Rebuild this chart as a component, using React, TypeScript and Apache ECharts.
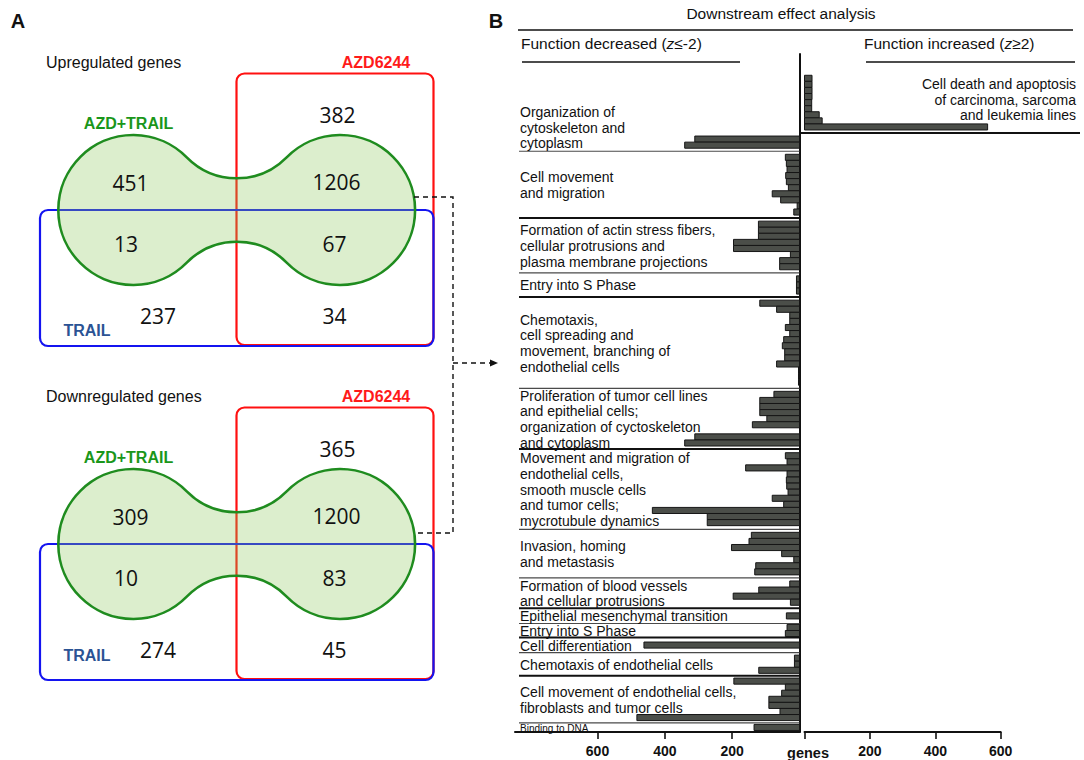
import { useEffect, useRef } from 'react';
import * as echarts from 'echarts';

const FONT = '"Liberation Sans", Arial, Helvetica, sans-serif';
const NUM_FONT = '"Open Sans", "Noto Sans", sans-serif';

// ---------- Panel A: Venn region counts ----------
const vennRegions = [
  'AZD6244 only',
  'AZD+TRAIL only',
  'AZD+TRAIL and AZD6244',
  'AZD+TRAIL and TRAIL',
  'AZD+TRAIL, AZD6244 and TRAIL',
  'TRAIL only',
  'TRAIL and AZD6244',
];
const upregulatedCounts = [382, 451, 1206, 13, 67, 237, 34];
const downregulatedCounts = [365, 309, 1200, 10, 83, 274, 45];

// ---------- Panel B: downstream effect analysis ----------
const increasedLabel = 'Cell death and apoptosis\nof carcinoma, sarcoma\nand leukemia lines';
const increasedGenes = [23, 23, 23, 23, 22, 22, 45, 54, 560];

const decreasedLabels = [
  'Organization of\ncytoskeleton and\ncytoplasm',
  'Cell movement\nand migration',
  'Formation of actin stress fibers,\ncellular protrusions and\nplasma membrane projections',
  'Entry into S Phase',
  'Chemotaxis,\ncell spreading and\nmovement, branching of\nendothelial cells',
  'Proliferation of tumor cell lines\nand epithelial cells;\norganization of cyctoskeleton\nand cytoplasm',
  'Movement and migration of\nendothelial cells,\nsmooth muscle cells\nand tumor cells;\nmycrotubule dynamics',
  'Invasion, homing\nand metastasis',
  'Formation of blood vessels\nand cellular protrusions',
  'Epithelial mesenchymal transition',
  'Entry into S Phase',
  'Cell differentiation',
  'Chemotaxis of endothelial cells',
  'Cell movement of endothelial cells,\nfibroblasts and tumor cells',
  'Binding to DNA',
];
const cytoskeletonGenes = [311, 341];
const cellMovementGenes = [42, 39, 37, 41, 39, 33, 81, 56, 7, 17];
const actinFiberGenes = [122, 122, 122, 196, 196, 27, 59, 59];
const sPhaseEntryGenes = [9, 9, 9];
const chemotaxisGenes = [118, 68, 29, 29, 42, 29, 47, 51, 44, 44, 68, 3, 3, 3];
const proliferationGenes = [76, 118, 118, 118, 97, 140, 0, 311, 341];
const endothelialMovementGenes = [42, 37, 160, 37, 39, 38, 34, 81, 47, 437, 274, 274];
const invasionGenes = [143, 150, 202, 53, 17, 130, 133];
const bloodVesselGenes = [29, 121, 197, 27];
const emtGenes = [39];
const sPhaseEntry2Genes = [37, 42];
const differentiationGenes = [462];
const endothelialChemotaxisGenes = [15, 15, 121];
const fibroblastMovementGenes = [195, 42, 53, 91, 91, 58, 483];
const dnaBindingGenes = [135];

const decreasedGenes = [
  cytoskeletonGenes,
  cellMovementGenes,
  actinFiberGenes,
  sPhaseEntryGenes,
  chemotaxisGenes,
  proliferationGenes,
  endothelialMovementGenes,
  invasionGenes,
  bloodVesselGenes,
  emtGenes,
  sPhaseEntry2Genes,
  differentiationGenes,
  endothelialChemotaxisGenes,
  fibroblastMovementGenes,
  dnaBindingGenes,
];
const geneTicks = [200, 400, 600];

// ---------- layout of the function groups ----------
const sectionPad = [1, 1, 1, 1, 1, 1, 1.2, 1, 1, 1.5, 0.3, 1.5, 0.8, 0.75, 0.5];
const dividerWeight = [1, 2, 1, 2, 1, 2, 1, 1, 2, 1, 2, 1, 2, 1, 0];
const LEFT_MAX = 845;
const RIGHT_MAX = 600;

// rows: increased group first, then the decreased groups stacked below it
const rightRows = increasedGenes.length + 1;
const rightBars = increasedGenes.map((v, i) => [v, 0.5 + i]);
const leftBars: number[][] = [];
const sections: number[][] = [];
let cursor = rightRows;
decreasedGenes.forEach((vals, s) => {
  const start = cursor;
  const first = start + sectionPad[s] / 2;
  vals.forEach((v, j) => leftBars.push([v, first + j]));
  cursor = start + vals.length + sectionPad[s];
  sections.push([0, start, cursor, s, dividerWeight[s]]);
});
const totalRows = cursor;

// peanut outline of the AZD+TRAIL set, centred on its waist
const PEANUT =
  'M-49.95 -52.62 A70.1 70.1 0 0 0 49.95 -52.62 A75 75 0 1 1 49.95 52.62 ' +
  'A70.1 70.1 0 0 0 -49.95 52.62 A75 75 0 1 1 -49.95 -52.62 Z';
echarts.graphic.registerShape('peanut', echarts.graphic.extendPath(PEANUT, {}));

const numberPos = [
  [337.5, 115],
  [130.5, 182.5],
  [336.5, 181.5],
  [126, 244],
  [334.5, 243.5],
  [158, 315.5],
  [334.5, 315.5],
];

function venn(title: string, counts: number[], dy: number, trailY: number) {
  const els: any[] = [
    {
      type: 'rect',
      shape: { x: 236.5, y: 73.5 + dy, width: 197, height: 271.5, r: 8 },
      style: { fill: 'none', stroke: '#ff1010', lineWidth: 2.2 },
    },
    {
      type: 'rect',
      shape: { x: 40, y: 210 + dy, width: 393.5, height: 136, r: 8 },
      style: { fill: 'none', stroke: '#1414f0', lineWidth: 2.2 },
    },
    {
      type: 'peanut',
      x: 236.7,
      y: 210 + dy,
      style: { fill: 'rgba(140,200,90,0.3)', stroke: '#1f8c1f', lineWidth: 2.6 },
    },
    {
      type: 'text',
      x: 46,
      y: 62 + dy,
      style: { text: title, fontSize: 16, fontFamily: FONT, fill: '#111', align: 'left', verticalAlign: 'middle' },
    },
    {
      type: 'text',
      x: 376,
      y: 62 + dy,
      style: { text: 'AZD6244', fontSize: 16, fontWeight: 'bold', fontFamily: FONT, fill: '#ff1a1a', align: 'center', verticalAlign: 'middle' },
    },
    {
      type: 'text',
      x: 128.5,
      y: 123.5 + dy,
      style: { text: 'AZD+TRAIL', fontSize: 16, fontWeight: 'bold', fontFamily: FONT, fill: '#1a961a', align: 'center', verticalAlign: 'middle' },
    },
    {
      type: 'text',
      x: 87,
      y: trailY,
      style: { text: 'TRAIL', fontSize: 16, fontWeight: 'bold', fontFamily: FONT, fill: '#2b5394', align: 'center', verticalAlign: 'middle' },
    },
  ];
  counts.forEach((c, i) => {
    els.push({
      type: 'text',
      x: numberPos[i][0],
      y: numberPos[i][1] + dy,
      name: vennRegions[i],
      style: { text: String(c), fontSize: 21, fontFamily: NUM_FONT, fill: '#111', align: 'center', verticalAlign: 'middle' },
    });
  });
  return els;
}

const emptyGroup = () => ({ type: 'group', children: [] });

function renderBar(_p: any, api: any) {
  const v = api.value(0);
  const r = api.value(1);
  if (!v) return emptyGroup();
  const a = api.coord([0, r]);
  const b = api.coord([v, r + 1]);
  return {
    type: 'rect',
    shape: { x: Math.min(a[0], b[0]), y: a[1], width: Math.abs(b[0] - a[0]), height: b[1] - a[1] },
    style: { fill: '#4b4e49', stroke: '#161616', lineWidth: 1 },
  };
}

function renderDivider(_p: any, api: any) {
  const end = api.value(2);
  const w = api.value(4);
  if (!w) return emptyGroup();
  const a = api.coord([0, end]);
  const b = api.coord([LEFT_MAX, end]);
  return {
    type: 'line',
    shape: { x1: b[0] + 4, y1: a[1], x2: a[0], y2: a[1] },
    style: { stroke: w > 1 ? '#111' : '#4a4a4a', lineWidth: w > 1 ? 2 : 1.2 },
  };
}

function renderLabel(_p: any, api: any) {
  const start = api.value(1);
  const end = api.value(2);
  const s = api.value(3);
  const top = api.coord([LEFT_MAX, start]);
  const bot = api.coord([LEFT_MAX, end]);
  const small = s === decreasedLabels.length - 1;
  const bottomAnchored = s === 0;
  return {
    type: 'text',
    x: top[0] + 5,
    y: bottomAnchored ? bot[1] : (top[1] + bot[1]) / 2 + (small ? 1 : 0.5),
    style: {
      text: decreasedLabels[s],
      fontSize: small ? 10 : 14,
      fontFamily: FONT,
      fill: '#111',
      align: 'left',
      verticalAlign: bottomAnchored ? 'bottom' : 'middle',
      lineHeight: small ? 11 : 15.7,
    },
  };
}

function renderIncreasedFrame(_p: any, api: any) {
  const a = api.coord([0, rightRows]);
  const mid = api.coord([RIGHT_MAX, rightRows / 2 - 0.5]);
  return {
    type: 'group',
    children: [
      {
        type: 'line',
        shape: { x1: a[0] - 4, y1: a[1], x2: api.getWidth() - 4, y2: a[1] },
        style: { stroke: '#111', lineWidth: 2 },
      },
      {
        type: 'text',
        x: api.getWidth() - 8,
        y: mid[1],
        style: {
          text: increasedLabel,
          fontSize: 14,
          fontFamily: FONT,
          fill: '#111',
          align: 'right',
          verticalAlign: 'middle',
          lineHeight: 15.5,
        },
      },
    ],
  };
}

export default function App() {
  const ref = useRef<HTMLDivElement>(null);

  useEffect(() => {
    if (!ref.current) return;
    const chart = echarts.init(ref.current, null, { renderer: 'svg' });

    const axisText = { fontSize: 14, fontWeight: 'bold', color: '#111', fontFamily: FONT, margin: 12 };
    const dash = { stroke: '#111', lineWidth: 1.4, lineDash: [5, 4] };
    const header = { fontFamily: FONT, fill: '#111', fontSize: 15.5, verticalAlign: 'middle' };

    const option: any = {
      animation: false,
      backgroundColor: '#fff',
      grid: [
        { left: 515, right: 1084 - 799.5, top: 54, bottom: 28 },
        { left: 804.5, right: 1084 - 1000.7, top: 54, bottom: 28 },
      ],
      xAxis: [
        {
          gridIndex: 0,
          type: 'value',
          position: 'bottom',
          inverse: true,
          min: 0,
          max: LEFT_MAX,
          axisLine: { show: true, onZero: false, lineStyle: { color: '#111', width: 2 } },
          axisTick: { show: true, customValues: geneTicks, length: 7, lineStyle: { color: '#111', width: 1.6 } },
          axisLabel: { ...axisText, customValues: geneTicks },
          splitLine: { show: false },
        },
        {
          gridIndex: 1,
          type: 'value',
          position: 'bottom',
          min: 0,
          max: RIGHT_MAX,
          axisLine: { show: true, onZero: false, lineStyle: { color: '#111', width: 2 } },
          axisTick: { show: true, customValues: [0, ...geneTicks], length: 7, lineStyle: { color: '#111', width: 1.6 } },
          axisLabel: { ...axisText, customValues: geneTicks },
          splitLine: { show: false },
        },
      ],
      yAxis: [
        {
          gridIndex: 0,
          type: 'value',
          inverse: true,
          min: -3,
          max: totalRows,
          position: 'right',
          axisLine: { show: true, onZero: false, lineStyle: { color: '#111', width: 2 } },
          axisTick: { show: false },
          axisLabel: { show: false },
          splitLine: { show: false },
        },
        {
          gridIndex: 1,
          type: 'value',
          inverse: true,
          min: -3,
          max: totalRows,
          show: false,
        },
      ],
      series: [
        {
          type: 'custom',
          name: 'Function decreased',
          xAxisIndex: 0,
          yAxisIndex: 0,
          renderItem: renderBar,
          encode: { x: 0, y: 1 },
          data: leftBars,
          clip: false,
          silent: true,
        },
        {
          type: 'custom',
          name: 'Function increased',
          xAxisIndex: 1,
          yAxisIndex: 1,
          renderItem: renderBar,
          encode: { x: 0, y: 1 },
          data: rightBars,
          clip: false,
          silent: true,
        },
        {
          type: 'custom',
          name: 'dividers',
          xAxisIndex: 0,
          yAxisIndex: 0,
          renderItem: renderDivider,
          encode: { x: 0, y: 2 },
          data: sections,
          clip: false,
          silent: true,
        },
        {
          type: 'custom',
          name: 'labels',
          xAxisIndex: 0,
          yAxisIndex: 0,
          renderItem: renderLabel,
          encode: { x: 0, y: 1 },
          data: sections,
          clip: false,
          silent: true,
        },
        {
          type: 'custom',
          name: 'increased frame',
          xAxisIndex: 1,
          yAxisIndex: 1,
          renderItem: renderIncreasedFrame,
          encode: { x: 0, y: 1 },
          data: [[0, 0]],
          clip: false,
          silent: true,
        },
      ],
      graphic: [
        ...venn('Upregulated genes', upregulatedCounts, 0, 330),
        ...venn('Downregulated genes', downregulatedCounts, 334, 655),
        {
          type: 'polyline',
          shape: { points: [[414, 197], [453, 197], [453, 533], [414, 533]] },
          style: { ...dash, fill: 'none' },
        },
        { type: 'line', shape: { x1: 453, y1: 363, x2: 491, y2: 363 }, style: dash },
        { type: 'polygon', shape: { points: [[490, 359.5], [498, 363], [490, 366.5]] }, style: { fill: '#111' } },
        {
          type: 'text', x: 18, y: 21,
          style: { text: 'A', fontSize: 20, fontWeight: 'bold', fontFamily: FONT, fill: '#111', align: 'center', verticalAlign: 'middle' },
        },
        {
          type: 'text', x: 496, y: 21,
          style: { text: 'B', fontSize: 20, fontWeight: 'bold', fontFamily: FONT, fill: '#111', align: 'center', verticalAlign: 'middle' },
        },
        {
          type: 'text', x: 781, y: 13,
          style: { ...header, text: 'Downstream effect analysis', align: 'center' },
        },
        { type: 'line', shape: { x1: 518, y1: 30, x2: 1073, y2: 30 }, style: { stroke: '#111', lineWidth: 1.5 } },
        {
          type: 'text', x: 521, y: 43,
          style: {
            ...header,
            align: 'left',
            text: '{n|Function decreased (}{i|z}{n|≤-2)}',
            rich: {
              n: { fontFamily: FONT, fontSize: 15.5, fill: '#111' },
              i: { fontFamily: FONT, fontSize: 15.5, fill: '#111', fontStyle: 'italic' },
            },
          },
        },
        {
          type: 'text', x: 864, y: 43,
          style: {
            ...header,
            align: 'left',
            text: '{n|Function increased (}{i|z}{n|≥2)}',
            rich: {
              n: { fontFamily: FONT, fontSize: 15.5, fill: '#111' },
              i: { fontFamily: FONT, fontSize: 15.5, fill: '#111', fontStyle: 'italic' },
            },
          },
        },
        { type: 'line', shape: { x1: 522, y1: 62, x2: 740, y2: 62 }, style: { stroke: '#111', lineWidth: 1.5 } },
        { type: 'line', shape: { x1: 866, y1: 62, x2: 1075, y2: 62 }, style: { stroke: '#111', lineWidth: 1.5 } },
        {
          type: 'text', x: 808, y: 753,
          style: { text: 'genes', fontSize: 14.5, fontWeight: 'bold', fontFamily: FONT, fill: '#111', align: 'center', verticalAlign: 'middle' },
        },
      ],
    };

    chart.setOption(option);
    return () => chart.dispose();
  }, []);

  return (
    <div
      ref={ref}
      style={{ position: 'fixed', left: 0, top: 0, width: 1084, height: 760, background: '#fff' }}
    />
  );
}
